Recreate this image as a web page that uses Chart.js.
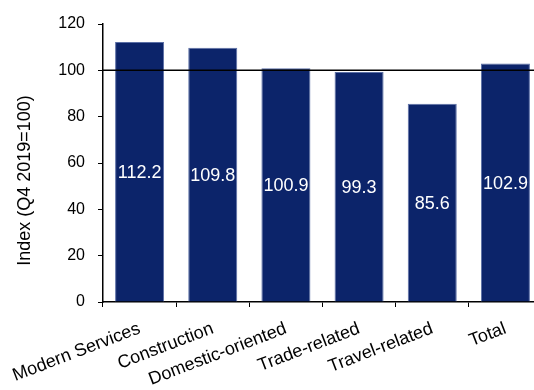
<!DOCTYPE html>
<html>
<head>
<meta charset="utf-8">
<script src="https://cdn.jsdelivr.net/npm/chart.js@4.4.1/dist/chart.umd.min.js"></script>
<style>
  html, body { margin: 0; padding: 0; overflow: hidden; background: #fff; }
  #wrap { position: relative; width: 542px; height: 390px; }
</style>
</head>
<body>
<div id="wrap"><canvas id="c"></canvas></div>
<script>
const categories = ["Modern Services", "Construction", "Domestic-oriented", "Trade-related", "Travel-related", "Total"];
const indexValues = [112.2, 109.8, 100.9, 99.3, 85.6, 102.9];
const yTicks = [0, 20, 40, 60, 80, 100, 120];
const referenceLevel = 100;
const yTitle = "Index (Q4 2019=100)";

const FONT = "'Liberation Sans', Arial, sans-serif";

const refLinePlugin = {
  id: 'refLine',
  afterDatasetsDraw(chart) {
    const { ctx, chartArea, scales } = chart;
    const y = scales.y.getPixelForValue(referenceLevel);
    ctx.save();
    ctx.strokeStyle = '#000';
    ctx.lineWidth = 1.5;
    ctx.beginPath();
    ctx.moveTo(chartArea.left, y);
    ctx.lineTo(chartArea.right, y);
    ctx.stroke();
    ctx.restore();
  }
};

const valueLabelPlugin = {
  id: 'valueLabels',
  afterDatasetsDraw(chart) {
    const { ctx } = chart;
    const meta = chart.getDatasetMeta(0);
    ctx.save();
    ctx.fillStyle = '#fff';
    ctx.font = '18px ' + FONT;
    ctx.textAlign = 'center';
    ctx.textBaseline = 'middle';
    meta.data.forEach((bar, i) => {
      const p = bar.getCenterPoint();
      ctx.fillText(indexValues[i].toFixed(1), p.x, p.y + 1);
    });
    ctx.restore();
  }
};

new Chart(document.getElementById('c'), {
  type: 'bar',
  data: {
    labels: categories,
    datasets: [{
      data: indexValues,
      backgroundColor: '#0c246a',
      borderColor: '#5b6fa6',
      borderWidth: 1,
      barPercentage: 0.67,
      categoryPercentage: 1.0
    }]
  },
  options: {
    responsive: true,
    maintainAspectRatio: false,
    animation: false,
    layout: { padding: { top: 24, left: 0, right: 0, bottom: 0 } },
    plugins: { legend: { display: false }, tooltip: { enabled: false } },
    scales: {
      x: {
        afterFit(scale) { scale.height = 88; scale.paddingLeft = 0; scale.paddingRight = 0; },
        grid: { display: true, drawOnChartArea: false, offset: true, tickLength: 5, tickColor: '#000', color: '#000' },
        border: { display: true, color: '#000', width: 1.5 },
        ticks: {
          color: '#000',
          font: { family: FONT, size: 18 },
          minRotation: 21,
          maxRotation: 21,
          autoSkip: false,
          padding: 11
        }
      },
      y: {
        min: 0,
        max: 120,
        afterFit(scale) { scale.width = 103; },
        afterBuildTicks(scale) { scale.ticks = yTicks.map(v => ({ value: v })); },
        grid: { display: true, drawOnChartArea: false, tickLength: 5, tickColor: '#000', color: '#000' },
        border: { display: true, color: '#000', width: 1.5 },
        ticks: {
          color: '#000',
          font: { family: FONT, size: 16 },
          padding: 13
        },
        title: {
          display: true,
          text: yTitle + '       ',
          color: '#000',
          font: { family: FONT, size: 18 },
          padding: { top: 14, bottom: 0 }
        }
      }
    }
  },
  plugins: [refLinePlugin, valueLabelPlugin]
});
</script>
</body>
</html>
